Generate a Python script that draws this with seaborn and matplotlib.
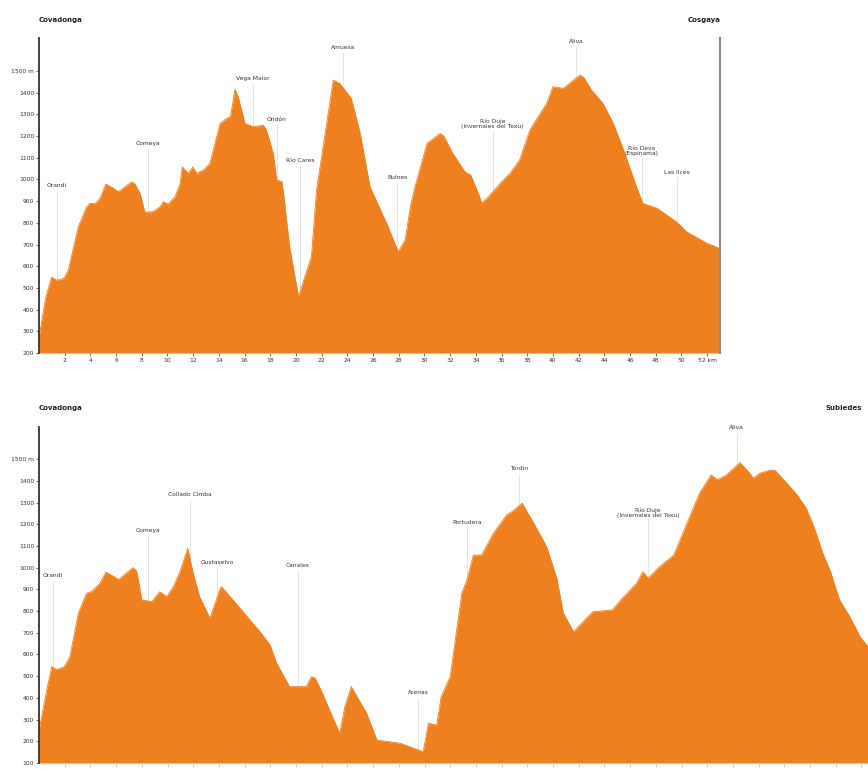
import numpy as np
import pandas as pd
import seaborn as sns
import matplotlib.pyplot as plt

ORANGE = '#EE801E'

# stage 1: Covadonga - Cosgaya
top_km = [0, 0.5, 0.98, 1.37, 1.94, 2.28, 3.06, 3.71, 3.97, 4.36, 4.75, 5.2, 5.78, 6.17,
          6.56, 7.21, 7.47, 7.86, 8.25, 8.9, 9.42, 9.67, 10.06, 10.58, 10.97, 11.15, 11.62,
          11.96, 12.27, 12.79, 13.3, 14.09, 14.6, 14.9, 15.25, 15.5, 16.03, 16.68, 17.46,
          17.7, 18.23, 18.5, 18.9, 19.0, 19.5, 20.2, 20.6, 21.2, 21.6, 22.9, 23.4, 24.3,
          25.0, 25.76, 27.06, 27.96, 28.5, 28.9, 29.26, 30.2, 31.2, 31.5, 32.2, 33.15, 33.6,
          34.3, 34.45, 34.97, 35.9, 36.65, 37.4, 38.2, 39.5, 40.0, 40.8, 41.6, 42.1, 42.4,
          43.0, 43.9, 44.7, 45.5, 46.5, 47.0, 48.1, 49.6, 50.4, 52.0, 53.0]
top_elev = [270, 450, 550, 535, 544, 582, 782, 874, 890, 888, 913, 979, 960, 943,
            960, 989, 979, 936, 848, 852, 874, 897, 887, 920, 979, 1058, 1028,
            1058, 1028, 1043, 1074, 1258, 1281, 1290, 1415, 1381, 1258, 1243, 1250,
            1228, 1120, 997, 990, 951, 690, 459, 536, 644, 951, 1458, 1443, 1374,
            1212, 966, 797, 667, 721, 874, 966, 1166, 1212, 1200, 1120, 1035, 1020,
            920, 890, 920, 982, 1028, 1089, 1228, 1350, 1427, 1420, 1458, 1481, 1470,
            1412, 1350, 1258, 1135, 966, 890, 867, 805, 759, 705, 682]
top_labels = ['Orandi', 'Comeya', 'Vega Maior', 'Ondón', 'Río Cares', 'Amuesa', 'Bulnes',
              'Río Duje\n(Invernales del Texu)', 'Áliva', 'Río Deva\n(Espinama)', 'Las Ilces']
top_label_km = [1.4, 8.5, 16.65, 18.5, 20.3, 23.65, 27.9, 35.3, 41.8, 46.9, 49.65]
top_label_elev = [970, 1168, 1467, 1278, 1089, 1610, 1011, 1255, 1638, 1131, 1034]

# stage 2: Covadonga - Sub... (runs past the right edge)
bot_km = [0, 0.6, 0.99, 1.37, 1.97, 2.4, 3.06, 3.7, 4.1, 4.75, 5.2, 5.8, 6.2, 6.6, 7.3,
          7.6, 8.0, 8.77, 9.4, 9.94, 10.45, 10.97, 11.57, 12.0, 12.5, 13.3, 14.1, 14.2,
          15.1, 16.2, 17.2, 17.98, 18.5, 19.5, 20.8, 21.2, 21.5, 22.0, 22.5, 23.4, 23.8,
          24.3, 24.9, 25.5, 26.3, 28.1, 29.9, 30.3, 30.95, 31.3, 32.0, 32.9, 33.3, 33.8,
          34.45, 35.35, 36.4, 36.8, 37.6, 38.5, 39.5, 40.3, 40.8, 41.6, 43.1, 44.6, 45.5,
          46.5, 47.0, 47.4, 48.3, 49.4, 50.1, 51.4, 52.3, 52.8, 53.5, 54.55, 55.2, 55.6,
          56.1, 56.9, 57.3, 58.2, 59.0, 59.7, 60.3, 61.0, 61.6, 62.3, 63.1, 63.9, 64.5, 65.5]
bot_elev = [250, 436, 544, 530, 544, 590, 790, 882, 890, 928, 980, 960, 945, 965, 1000,
            985, 851, 843, 889, 866, 912, 981, 1089, 974, 866, 767, 905, 912,
            851, 774, 705, 644, 559, 452, 452, 498, 490, 429, 359, 237, 359,
            452, 390, 329, 206, 191, 152, 283, 275, 406, 498, 882, 943, 1058,
            1058, 1158, 1243, 1258, 1297, 1205, 1097, 950, 790, 705, 797, 805, 866,
            928, 981, 951, 1005, 1058, 1158, 1343, 1427, 1405, 1427, 1484, 1443, 1412,
            1435, 1450, 1447, 1389, 1335, 1274, 1189, 1066, 981, 851, 774, 682, 636, 600]
bot_labels = ['Orandi', 'Comeya', 'Collado Cimba', 'Gustaselvo', 'Canales', 'Arenas',
              'Portudera', 'Tordín', 'Río Duje\n(Invernales del Texu)', 'Áliva']
bot_label_km = [1.1, 8.5, 11.75, 13.85, 20.15, 29.5, 33.3, 37.35, 47.4, 54.3]
bot_label_elev = [962, 1169, 1335, 1026, 1008, 423, 1206, 1455, 1252, 1644]

sns.set_theme(style='white')
plt.rcParams['font.family'] = ['DejaVu Sans']

fig = plt.figure(figsize=(8.68, 7.69), dpi=100)
ax1 = fig.add_axes([39 / 868, 416 / 769, 681 / 868, 315 / 769])
ax2 = fig.add_axes([39 / 868, 6 / 769, 70 * 12.85 / 868, 336 / 769])


def profile(ax, km, elev, base, top, xmax):
    df = pd.DataFrame({'km': km, 'elev': elev})
    sns.lineplot(data=df, x='km', y='elev', ax=ax, color=ORANGE, linewidth=0.6)
    ax.fill_between(df['km'], base, df['elev'], color=ORANGE, linewidth=0)
    ax.set_xlim(0, xmax)
    ax.set_ylim(base, top)
    ax.set_xlabel('')
    ax.set_ylabel('')
    for s in ['top', 'bottom', 'right']:
        ax.spines[s].set_visible(False)
    ax.spines['left'].set_color('#333333')
    ax.spines['left'].set_linewidth(1.3)
    ax.tick_params(labelsize=4.3, length=2, width=0.5, colors='#333333', pad=1.5,
                   left=True, bottom=True)


profile(ax1, top_km, top_elev, 200, 1652, 53.0)
ax1.spines['right'].set_visible(True)
ax1.spines['right'].set_color('#8a8a8a')
ax1.spines['right'].set_linewidth(1.5)
yt = list(range(200, 1600, 100))
ax1.set_yticks(yt, [str(v) if v < 1500 else '1500 m' for v in yt])
xt = list(range(2, 54, 2))
ax1.set_xticks(xt, [str(v) if v < 52 else '52 km' for v in xt])

profile(ax2, bot_km, bot_elev, 100, 1648, 70)
yt2 = list(range(100, 1600, 100))
ax2.set_yticks(yt2, [str(v) if v < 1500 else '1500 m' for v in yt2])
# km labels of the lower profile fall below the picture edge, only the marks show
xt2 = list(range(2, 70, 2))
ax2.set_xticks(xt2, ['' for v in xt2])
ax2.tick_params(axis='x', length=3, colors='#bbbbbb')


def labels(ax, names, kms, elevs, km, elev):
    for name, x, y in zip(names, kms, elevs):
        ax.text(x, y, name, fontsize=4.3, ha='center', va='center', color='#333333',
                linespacing=1.0)
        ground = np.interp(x, km, elev)
        ax.vlines(x, ground, y - 25, color='#d8d8d8', linewidth=0.5, zorder=0.5)


labels(ax1, top_labels, top_label_km, top_label_elev, top_km, top_elev)
labels(ax2, bot_labels, bot_label_km, bot_label_elev, bot_km, bot_elev)

ax1.text(0, 1735, 'Covadonga', fontsize=5, fontweight='bold', ha='left', va='center',
         color='#222222', clip_on=False)
ax1.text(53.0, 1735, 'Cosgaya', fontsize=5, fontweight='bold', ha='right', va='center',
         color='#222222', clip_on=False)
ax2.text(0, 1736, 'Covadonga', fontsize=5, fontweight='bold', ha='left', va='center',
         color='#222222', clip_on=False)
ax2.text(61.2, 1736, 'Subiedes', fontsize=5, fontweight='bold', ha='left', va='center',
         color='#222222', clip_on=False)

fig.savefig('out.png', dpi=100)
